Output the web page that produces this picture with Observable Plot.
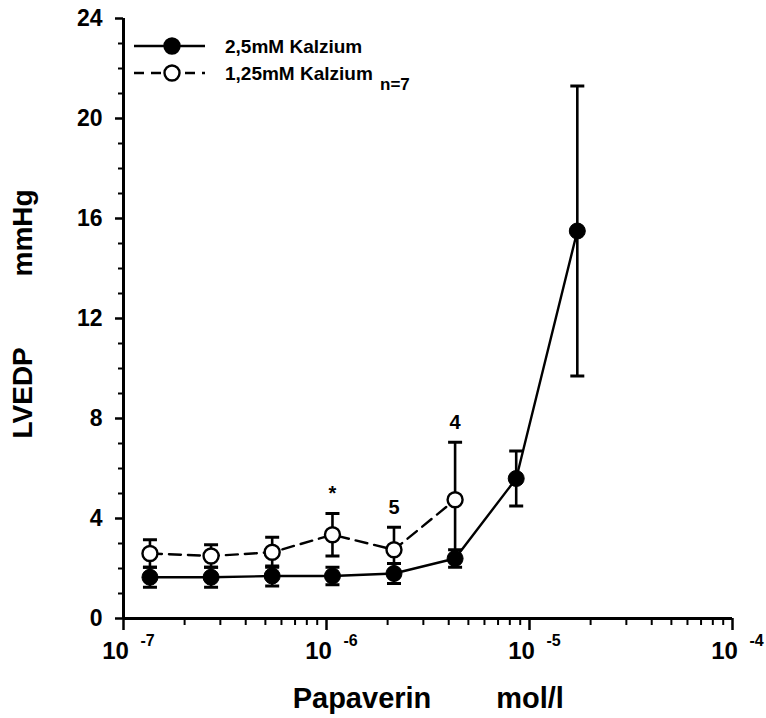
<!DOCTYPE html>
<html><head><meta charset="utf-8">
<script src="https://cdn.jsdelivr.net/npm/d3@7"></script>
<script src="https://cdn.jsdelivr.net/npm/@observablehq/plot@0.6"></script>
<style>
body{margin:0;background:#fff;}
#chart{position:relative;width:766px;height:718px;}
#legend{position:absolute;left:0;top:0;pointer-events:none;}
</style></head><body><div id="chart"></div>
<script>
// ---- data ----
const conc = [1.35e-7, 2.7e-7, 5.4e-7, 1.07e-6, 2.15e-6, 4.3e-6, 8.6e-6, 1.72e-5];
const ca25Mean = [1.65, 1.65, 1.7, 1.7, 1.8, 2.4, 5.6, 15.5];
const ca25Err  = [0.4, 0.4, 0.4, 0.35, 0.4, 0.35, 1.1, 5.8];
const ca125Mean = [2.6, 2.5, 2.65, 3.35, 2.75, 4.75];
const ca125Err  = [0.55, 0.45, 0.6, 0.85, 0.9, 2.3];
const ca125Notes = ["", "", "", "*", "5", "4"];
const seriesNames = ["2,5mM Kalzium", "1,25mM Kalzium"];
const sampleNote = "n=7";
const xDecades = [1e-7, 1e-6, 1e-5, 1e-4];
const xDecadeExp = ["-7", "-6", "-5", "-4"];
const xMinorMant = [2, 3, 4, 5, 6, 7, 8, 9];
const yMajor = [0, 4, 8, 12, 16, 20, 24];
const yMinor = [1, 2, 3, 5, 6, 7, 9, 10, 11, 13, 14, 15, 17, 18, 19, 21, 22, 23];
const xLabelParts = ["Papaverin", "mol/l"];
const yLabelParts = ["LVEDP", "mmHg"];

// ---- tables ----
const filled = conc.map((x, i) => ({x, y: ca25Mean[i], lo: ca25Mean[i] - ca25Err[i], hi: ca25Mean[i] + ca25Err[i]}));
const open = ca125Mean.map((y, i) => ({x: conc[i], y, lo: y - ca125Err[i], hi: y + ca125Err[i], note: ca125Notes[i]}));
const xMinor = xDecades.slice(0, 3).flatMap(d => xMinorMant.map(m => m * d));
const expTable = xDecades.map((v, i) => ({v, e: xDecadeExp[i]}));

const capSymbol = {draw(ctx, size) { const w = Math.sqrt(size / Math.PI); ctx.moveTo(-w, 0); ctx.lineTo(w, 0); }};
const errMarks = (data) => [
  Plot.ruleX(data, {x: "x", y1: "lo", y2: "hi", stroke: "black", strokeWidth: 2.6}),
  Plot.dot(data, {x: "x", y: "lo", symbol: capSymbol, r: 7, stroke: "black", strokeWidth: 3, fill: "none"}),
  Plot.dot(data, {x: "x", y: "hi", symbol: capSymbol, r: 7, stroke: "black", strokeWidth: 3, fill: "none"})
];

const plot = Plot.plot({
  width: 766, height: 718,
  marginTop: 18, marginRight: 34, marginBottom: 100, marginLeft: 123,
  style: {fontFamily: "'Liberation Sans', Arial, sans-serif", fontWeight: "bold", fontSize: "23px", color: "black", background: "white"},
  x: {type: "log", domain: [1e-7, 1e-4], label: null},
  y: {domain: [0, 24], label: null},
  marks: [
    Plot.axisX(xDecades, {tickSize: 12, tickFormat: () => "", strokeWidth: 2.5, label: null}),
    Plot.axisX(xMinor, {tickSize: 7, tickFormat: () => "", strokeWidth: 2, label: null}),
    Plot.axisY(yMajor, {tickSize: 8, tickPadding: 13, fontSize: 23, strokeWidth: 2.5, label: null}),
    Plot.axisY(yMinor, {tickSize: 5, tickFormat: () => "", strokeWidth: 2, label: null}),
    Plot.ruleY([0], {stroke: "black", strokeWidth: 3}),
    Plot.ruleX([1e-7], {stroke: "black", strokeWidth: 3}),
    Plot.text(xDecades, {x: d => d, text: () => "10", frameAnchor: "bottom", dy: 40, dx: -8, fontSize: 24}),
    Plot.text(expTable, {x: "v", text: "e", frameAnchor: "bottom", dy: 27, dx: 24, fontSize: 16}),
    Plot.text([xLabelParts[0]], {frameAnchor: "bottom", dx: -66, dy: 89, fontSize: 29}),
    Plot.text([xLabelParts[1]], {frameAnchor: "bottom", dx: 102, dy: 89, fontSize: 29}),
    Plot.text([yLabelParts[0]], {frameAnchor: "left", rotate: -90, dx: -100, dy: 120, fontSize: 28}),
    Plot.text([yLabelParts[1]], {frameAnchor: "left", rotate: -90, dx: -100, dy: -42, fontSize: 28}),
    ...errMarks(open),
    ...errMarks(filled),
    Plot.line(open, {x: "x", y: "y", stroke: "black", strokeWidth: 2.4, strokeDasharray: "12,7"}),
    Plot.line(filled, {x: "x", y: "y", stroke: "black", strokeWidth: 2.4}),
    Plot.dot(open, {x: "x", y: "y", r: 7.5, fill: "white", stroke: "black", strokeWidth: 2.4}),
    Plot.dot(filled, {x: "x", y: "y", r: 8, fill: "black", stroke: "black", strokeWidth: 1}),
    Plot.text(open.filter(d => d.note), {x: "x", y: "hi", text: "note", dy: -20, fontSize: 20})
  ]
});
const chart = document.getElementById("chart");
chart.appendChild(plot);

// ---- legend overlay ----
const lg = d3.select(chart).append("svg").attr("id", "legend").attr("width", 766).attr("height", 110)
  .style("font-family", "'Liberation Sans', Arial, sans-serif").style("font-weight", "bold");
const rows = [{name: seriesNames[0], y: 46, fill: "black", dash: null}, {name: seriesNames[1], y: 73, fill: "white", dash: "10,7"}];
rows.forEach(r => {
  lg.append("line").attr("x1", 134).attr("x2", 205).attr("y1", r.y).attr("y2", r.y)
    .attr("stroke", "black").attr("stroke-width", 2.4).attr("stroke-dasharray", r.dash);
  lg.append("circle").attr("cx", 172).attr("cy", r.y).attr("r", 7.5).attr("fill", r.fill).attr("stroke", "black").attr("stroke-width", 2.4);
  lg.append("text").attr("x", 225).attr("y", r.y).attr("dy", "0.35em").attr("font-size", 19).text(r.name);
});
lg.append("text").attr("x", 380).attr("y", 84).attr("dy", "0.35em").attr("font-size", 17).text(sampleNote);
</script>
</body></html>
